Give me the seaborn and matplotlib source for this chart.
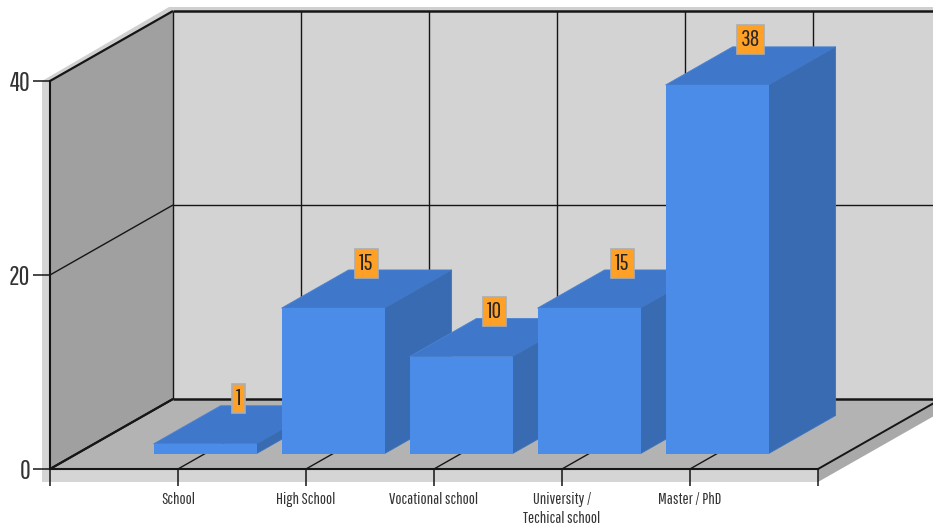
import matplotlib
matplotlib.use("Agg")
import matplotlib.pyplot as plt
from matplotlib.patches import Polygon
from matplotlib.transforms import Affine2D, IdentityTransform
import numpy as np
import pandas as pd
import seaborn as sns

# Survey results by education level
categories = ["School", "High School", "Vocational school", "University /\nTechical school", "Master / PhD"]
values = [1, 15, 10, 15, 38]
y_ticks = [0, 20, 40]

# Oblique projection: pixels moved per unit of depth
DEPTH_X, DEPTH_Y = 123, 70
BAR_NEAR, BAR_FAR = 0.22, 0.765
FLOOR_DROP = 13

sns.set_theme(style="white")
FONT = ["Pathway Gothic One", "Archivo Narrow", "Liberation Sans", "DejaVu Sans"]
plt.rcParams["font.family"] = FONT

W, H = 933, 528
fig = plt.figure(figsize=(W / 100, H / 100), dpi=100, facecolor="white")
ax = fig.add_axes([50 / W, (H - 469) / H, 768 / W, 388 / H])

frame = pd.DataFrame({"level": categories, "count": values})
sns.barplot(data=frame, x="level", y="count", color="#4a8ce8", saturation=1,
            width=0.805, ax=ax, zorder=3)
ax.set_xlim(-1, 5)
ax.set_ylim(0, 40)
ax.set_xlabel("")
ax.set_ylabel("")
ax.patch.set_visible(False)
fig.canvas.draw()


def project(x, y, depth=0.0):
    """Data position at a given depth, in figure pixels."""
    px, py = ax.transData.transform((x, y))
    return px + depth * DEPTH_X, py + depth * DEPTH_Y


def face(points, color, z, edge="none", lw=0):
    ax.add_patch(Polygon(points, closed=True, facecolor=color, edgecolor=edge, linewidth=lw,
                         transform=IdentityTransform(), clip_on=False, zorder=z))


def stroke(a, b, lw=1.0, color="#161616", z=1.5):
    ax.plot([a[0], b[0]], [a[1], b[1]], color=color, lw=lw, transform=IdentityTransform(),
            clip_on=False, zorder=z, solid_capstyle="butt")


x0, x1 = ax.get_xlim()
top = y_ticks[-1]

# Plinth under the chart box
left_edge = project(x0, top)[0] - 8
base_y = project(x0, 0)[1]
face([(left_edge, base_y - FLOOR_DROP), (project(x1, 0)[0], base_y - FLOOR_DROP),
      project(x1, 0), project(x0, 0), project(x0, top), (left_edge, project(x0, top)[1])],
     "#d5d5d5", 0.2)
right_low = (project(x1, 0)[0], base_y - FLOOR_DROP)
face([right_low, project(x1, 0), project(x1, 0, 1),
      (project(x1, 0, 1)[0], project(x1, 0, 1)[1] - FLOOR_DROP)], "#a9a9a9", 0.2)

# Soft rim along the top of the box
face([(left_edge, project(x0, top)[1]), project(x0, top), project(x0, top, 1), project(x1, top, 1),
      (project(x1, top, 1)[0], project(x1, top, 1)[1] + 4),
      (project(x0, top, 1)[0] - 4, project(x0, top, 1)[1] + 4)], "#d0d0d0", 0.2)

# Walls and floor
face([project(x0, 0, 1), project(x1, 0, 1), project(x1, top, 1), project(x0, top, 1)], "#d3d3d3", 0.3)
face([project(x0, 0), project(x0, 0, 1), project(x0, top, 1), project(x0, top)], "#a0a0a0", 0.3)
face([project(x0, 0), project(x1, 0), project(x1, 0, 1), project(x0, 0, 1)], "#b3b3b3", 0.3)

# Grid on the back wall, side wall and floor
for i in range(int(x0), int(x1) + 1):
    stroke(project(i, 0, 1), project(i, top, 1), lw=1.0)
    stroke(project(i, 0), project(i, 0, 1), lw=1.4 if i in (x0, x1) else 1.0)
for tick in y_ticks:
    stroke(project(x0, tick), project(x0, tick, 1), lw=1.6 if tick != 20 else 1.0)
    stroke(project(x0, tick, 1), project(x1, tick, 1), lw=1.8 if tick != 20 else 1.0)

# Bars: seaborn draws the front faces, which are then pushed back to their depth
push = Affine2D().translate(BAR_NEAR * DEPTH_X, BAR_NEAR * DEPTH_Y)
for i, bar in enumerate(ax.patches[:len(values)]):
    z = 3 + i
    xl, xr = bar.get_x(), bar.get_x() + bar.get_width()
    h = bar.get_height()
    face([project(xl, h, BAR_NEAR), project(xr, h, BAR_NEAR),
          project(xr, h, BAR_FAR), project(xl, h, BAR_FAR)], "#3f78ca", z, edge="#4a82d2", lw=0.6)
    face([project(xr, 0, BAR_NEAR), project(xr, 0, BAR_FAR),
          project(xr, h, BAR_FAR), project(xr, h, BAR_NEAR)], "#386bb1", z, edge="#3f74bf", lw=0.6)
    bar.set_transform(ax.transData + push)
    bar.set_clip_on(False)
    bar.set_zorder(z + 0.1)
    bar.set_linewidth(0)

    # Value badge floating over the middle of the bar's top face
    cx, cy = project((xl + xr) / 2, h, (BAR_NEAR + BAR_FAR) / 2)
    ax.text(cx, cy + 26, str(values[i]), transform=IdentityTransform(), ha="center", va="center",
            fontsize=17, color="#262626", family=FONT, zorder=20, clip_on=False,
            bbox=dict(boxstyle="square,pad=0.17", facecolor="#ffa126", edgecolor="#adadad", linewidth=1.2))

# Axes furniture
for name, spine in ax.spines.items():
    spine.set_visible(name in ("left", "bottom"))
    spine.set_color("#161616")
    spine.set_linewidth(1.5)
    spine.set_zorder(2)
ax.set_xticks(np.arange(x0, x1 + 1))
ax.set_xticklabels([""] + categories + [""], fontsize=11.8, color="#333333", linespacing=1.3)
ax.set_yticks(y_ticks)
ax.set_yticklabels([str(t) for t in y_ticks], fontsize=19, color="#333333")
ax.tick_params(axis="both", which="major", bottom=True, left=True, length=12.2, width=1.1,
               color="#161616")
ax.tick_params(axis="x", pad=4.5)
ax.tick_params(axis="y", pad=2)

fig.savefig("out.png", dpi=100, facecolor="white")
